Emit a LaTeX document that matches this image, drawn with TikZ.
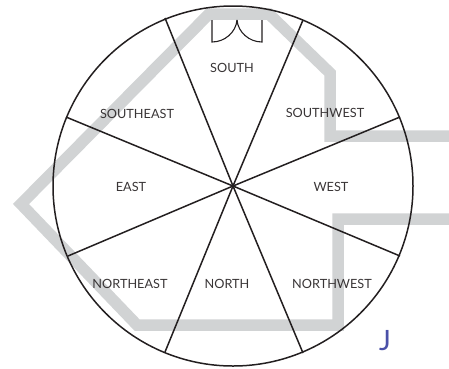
\documentclass[tikz,border=0pt]{standalone}
\usepackage{fontspec}
\setmainfont{Lato}
\definecolor{wallgray}{HTML}{D1D3D4}
\definecolor{inkdark}{HTML}{231F20}
\definecolor{jblue}{HTML}{4A50A8}
\begin{document}
\begin{tikzpicture}[
    x=1pt, y=-1pt,
    sector/.style={font=\fontsize{12.7}{14}\selectfont, text=inkdark!90, inner sep=0pt},
    spoke/.style={draw=inkdark, line width=1.5pt},
    wall/.style={draw=wallgray, line width=11.5pt, miter limit=10},
    door/.style={draw=inkdark, line width=1.1pt}
]
    \useasboundingbox (0,0) rectangle (449,368);
    % wall band
    \draw[wall] (449,136) -- (330,136) -- (330,73) -- (269,14) -- (209,14) -- (21,204) -- (137,325) -- (338,325) -- (338,219) -- (449,219);
    % door
    \draw[door] (237,20) .. controls (236,32) and (225,42) .. (212,42) -- (212,20);
    \draw[door] (237,20) .. controls (238,32) and (249,42) .. (262,42) -- (262,20);
    % compass circle
    \coordinate (hub) at (233,186);
    \node[spoke, circle, minimum size=360pt, inner sep=0pt] (rim) at (hub) {};
    \coordinate (s1) at (165,18);
    \coordinate (s2) at (303,20);
    \coordinate (s3) at (400,117);
    \coordinate (s4) at (400,256);
    \coordinate (s5) at (303,353);
    \coordinate (s6) at (165,352);
    \coordinate (s7) at (68,256);
    \coordinate (s8) at (66,117);
    \foreach \i in {1,...,8}
        \draw[spoke] (hub) -- (s\i);
    % labels
    \node[sector] (south) at (232,68) {SOUTH};
    \node[sector] (southwest) at (325,113) {SOUTHWEST};
    \node[sector] (southeast) at (137,114) {SOUTHEAST};
    \node[sector] (east) at (131,187) {EAST};
    \node[sector] (west) at (331,187) {WEST};
    \node[sector] (northeast) at (130,284) {NORTHEAST};
    \node[sector] (north) at (227,284) {NORTH};
    \node[sector] (northwest) at (332,284) {NORTHWEST};
    \node[font=\fontsize{28}{30}\selectfont, text=jblue, inner sep=0pt] (jmark) at (385,341) {J};
\end{tikzpicture}
\end{document}
